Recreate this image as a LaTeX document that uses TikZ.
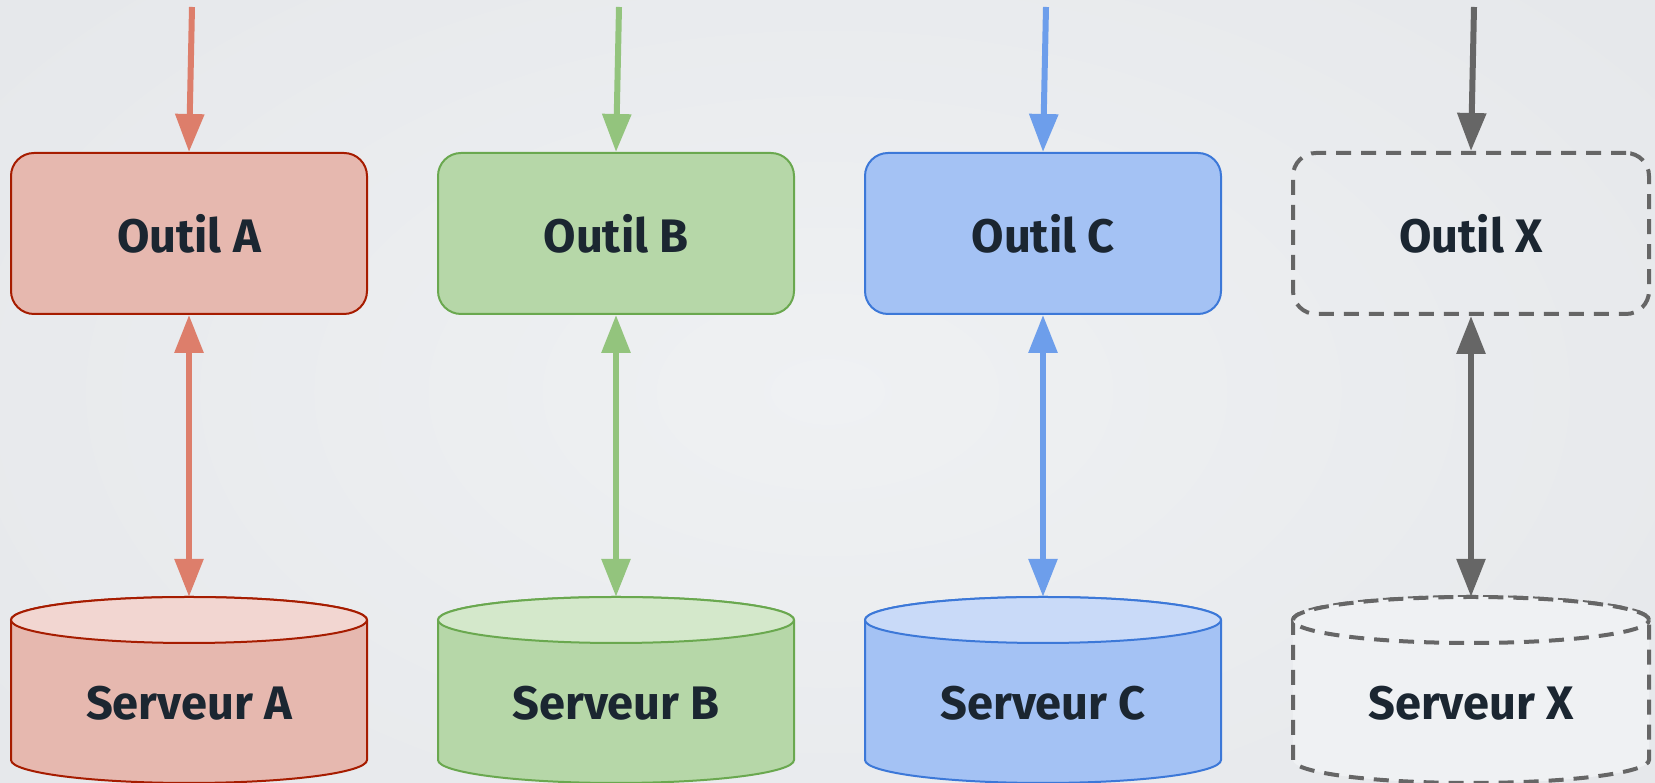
\documentclass[tikz,border=0pt]{standalone}
\usepackage{fontspec}
\setmainfont{Fira Sans}
\usetikzlibrary{arrows.meta}
\definecolor{bgin}{HTML}{EFF1F3}
\definecolor{bgout}{HTML}{E6E8EB}
\definecolor{txt}{HTML}{1B2631}
\definecolor{fillA}{HTML}{E6B8AF}
\definecolor{capA}{HTML}{F2D6D1}
\definecolor{lineA}{HTML}{A61C00}
\definecolor{arrA}{HTML}{DD7E6B}
\definecolor{fillB}{HTML}{B6D7A8}
\definecolor{capB}{HTML}{D4E8CB}
\definecolor{lineB}{HTML}{6AA84F}
\definecolor{arrB}{HTML}{93C47D}
\definecolor{fillC}{HTML}{A4C2F4}
\definecolor{capC}{HTML}{C9DAF8}
\definecolor{lineC}{HTML}{3C78D8}
\definecolor{arrC}{HTML}{6D9EEB}
\definecolor{gX}{HTML}{666666}
\tikzset{
  x=1pt, y=1pt,
  lbl/.style={font=\fontsize{47}{50}\selectfont\bfseries, text=txt, inner sep=0pt},
  toolbox/.style={rectangle, rounded corners=23pt, minimum width=356pt, minimum height=161pt, line width=2pt},
  srvarea/.style={rectangle, minimum width=356pt, minimum height=186pt, inner sep=0pt},
  conn/.style={line width=6pt},
  xdash/.style={line width=4pt, dash pattern=on 15pt off 10pt},
}
% cylinder: #1 center x, #2 fill, #3 cap fill, #4 line style
\newcommand{\mycyl}[4]{%
  \path[fill=#2,#4] (#1-178,163) -- (#1-178,23) arc[start angle=180,end angle=360,x radius=178,y radius=23] -- (#1+178,163) arc[start angle=0,end angle=180,x radius=178,y radius=23] -- cycle;
  \path[fill=#3,#4] (#1,163) ellipse[x radius=178,y radius=23];
}
\begin{document}
\begin{tikzpicture}
\useasboundingbox (0,0) rectangle (1655,783);
\shade[inner color=bgin, outer color=bgout] (-200,-200) rectangle (1855,983);

\foreach \cx/\n/\fc/\cc/\lc/\ac in {189/A/fillA/capA/lineA/arrA, 616/B/fillB/capB/lineB/arrB, 1043/C/fillC/capC/lineC/arrC} {
  \node[toolbox, draw=\lc, fill=\fc] (o\n) at (\cx,549.5) {};
  \node[lbl] at (o\n) {Outil \n};
  \mycyl{\cx}{\fc}{\cc}{draw=\lc, line width=2pt}
  \node[srvarea] (s\n) at (\cx,93) {};
  \node[lbl] (t\n) at (\cx,80) {Serveur \n};
  \coordinate (in\n) at (\cx+3,776);
  \draw[conn, draw=\ac, -{Triangle[length=38pt,width=28pt,fill=\ac]}] (in\n) -- (o\n.north);
  \draw[conn, draw=\ac, {Triangle[length=38pt,width=28pt,fill=\ac]}-{Triangle[length=38pt,width=28pt,fill=\ac]}] (o\n.south) -- (s\n.north);
}

% X column
\node[toolbox, draw=gX, xdash] (oX) at (1471,549.5) {};
\node[lbl] at (oX) {Outil X};
\mycyl{1471}{bgin}{bgin}{draw=gX, xdash}
\node[srvarea] (sX) at (1471,93) {};
\node[lbl] (tX) at (1471,80) {Serveur X};
\coordinate (inX) at (1474,776);
\draw[conn, draw=gX, -{Triangle[length=38pt,width=28pt,fill=gX]}] (inX) -- (oX.north);
\draw[conn, draw=gX, {Triangle[length=38pt,width=28pt,fill=gX]}-{Triangle[length=38pt,width=28pt,fill=gX]}] (oX.south) -- (sX.north);
\end{tikzpicture}
\end{document}
